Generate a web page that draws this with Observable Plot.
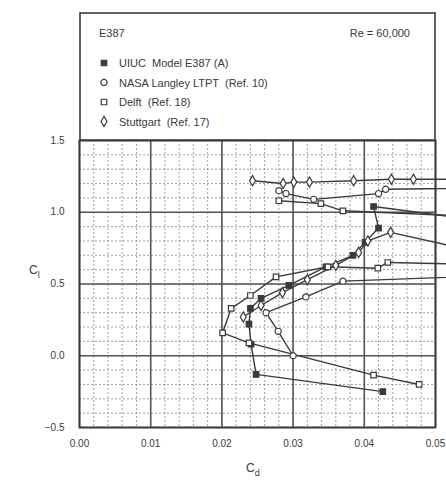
<!DOCTYPE html>
<html><head><meta charset="utf-8">
<script src="https://cdn.jsdelivr.net/npm/d3@7"></script>
<script src="https://cdn.jsdelivr.net/npm/@observablehq/plot@0.6"></script>
<style>body{margin:0;background:#fff;font-family:"Liberation Sans",Arial,sans-serif} svg{overflow:hidden;display:block}</style>
</head><body><div id="chart"></div>
<script>
// ---- data ----
const seriesNames = ["UIUC  Model E387 (A)", "NASA Langley LTPT  (Ref. 10)", "Delft  (Ref. 18)", "Stuttgart  (Ref. 17)"];
const xTicks = [0.00, 0.01, 0.02, 0.03, 0.04, 0.05];
const yTicks = [-0.5, 0.0, 0.5, 1.0, 1.5];
const titleText = "E387";
const reText = "Re = 60,000";

const uiucCd = [0.0426, 0.0248, 0.0241, 0.0238, 0.0240, 0.0255, 0.0294, 0.0346, 0.0384, 0.0401, 0.0420, 0.0413, 0.066];
const uiucCl = [-0.25, -0.13, 0.08, 0.22, 0.33, 0.40, 0.49, 0.62, 0.70, 0.79, 0.89, 1.04, 0.88];

const nasaCd = [0.0300, 0.0279, 0.0262, 0.0318, 0.0370, 0.070];
const nasaCl = [0.00, 0.17, 0.30, 0.41, 0.52, 0.58];
const nasaTopCd = [0.0280, 0.0290, 0.0329, 0.0420, 0.0430, 0.075];
const nasaTopCl = [1.15, 1.13, 1.09, 1.13, 1.16, 1.18];

const delftCd = [0.0477, 0.0413, 0.0238, 0.0201, 0.0213, 0.0240, 0.0276, 0.0349, 0.0419, 0.0433, 0.070];
const delftCl = [-0.20, -0.135, 0.09, 0.16, 0.33, 0.42, 0.55, 0.62, 0.61, 0.65, 0.62];
const delftTopCd = [0.0280, 0.0339, 0.0370, 0.075];
const delftTopCl = [1.08, 1.06, 1.01, 0.93];

const stuttCd = [0.0230, 0.0255, 0.0285, 0.0320, 0.0360, 0.0392, 0.0405, 0.0437, 0.058];
const stuttCl = [0.27, 0.35, 0.44, 0.53, 0.63, 0.72, 0.80, 0.86, 0.70];
const stuttTopCd = [0.0243, 0.0286, 0.0301, 0.0323, 0.0385, 0.0438, 0.0469, 0.075];
const stuttTopCl = [1.22, 1.20, 1.21, 1.21, 1.22, 1.23, 1.23, 1.23];

// ---- build table ----
const branches = [
  [0, "a", uiucCd, uiucCl],
  [1, "a", nasaCd, nasaCl], [1, "b", nasaTopCd, nasaTopCl],
  [2, "a", delftCd, delftCl], [2, "b", delftTopCd, delftTopCl],
  [3, "a", stuttCd, stuttCl], [3, "b", stuttTopCd, stuttTopCl]
];
const rows = [];
for (const [s, b, cd, cl] of branches) cd.forEach((v, i) => rows.push({series: seriesNames[s], key: s + b, cd: v, cl: cl[i]}));

const ink = "#3a3a3a";
const symbols = ["square", "circle", "square", "diamond"];
const fills = [ink, "#fff", "#fff", "#fff"];

const minorX = d3.range(0, 0.0501, 0.002).map(v => +v.toFixed(4));
const minorY = d3.range(-0.5, 1.501, 0.1).map(v => +v.toFixed(2));

const W = 446, H = 480;
const plot = Plot.plot({
  width: W, height: H,
  marginLeft: 79, marginRight: 11, marginTop: 140, marginBottom: 53,
  style: {fontFamily: "'Liberation Sans', Arial, sans-serif", fontSize: "10px", color: ink, background: "#fff"},
  x: {domain: [0, 0.05], ticks: xTicks, tickFormat: d3.format(".2f"), tickSize: 0, tickPadding: 12, label: null},
  y: {domain: [-0.5, 1.5], ticks: yTicks, tickFormat: d3.format(".1f"), tickSize: 0, tickPadding: 15, label: null},
  symbol: {domain: seriesNames, range: symbols},
  marks: [
    Plot.ruleX(minorX, {stroke: "#777", strokeWidth: 0.7, strokeDasharray: "2,2"}),
    Plot.ruleY(minorY, {stroke: "#777", strokeWidth: 0.7, strokeDasharray: "2,2"}),
    Plot.ruleX(xTicks, {stroke: "#555", strokeWidth: 1.6}),
    Plot.ruleY(yTicks, {stroke: "#555", strokeWidth: 1.6}),
    Plot.frame({stroke: ink, strokeWidth: 1.8}),
    Plot.line(rows, {x: "cd", y: "cl", z: "key", stroke: ink, strokeWidth: 1.4, clip: false}),
    Plot.dot(rows, {x: "cd", y: "cl", symbol: "series", r: 3.1, stroke: ink, strokeWidth: 1.2,
      fill: d => fills[seriesNames.indexOf(d.series)]})
  ]
});
document.getElementById("chart").append(plot);

// ---- legend box and labels ----
const svg = d3.select(plot);
const g = svg.append("g").attr("font-family", "'Liberation Sans', Arial, sans-serif")
  .attr("fill", ink).attr("text-anchor", "start");
g.append("rect").attr("x", 80).attr("y", 13).attr("width", 355).attr("height", 127)
  .attr("fill", "#fff").attr("stroke", ink).attr("stroke-width", 1.6);
g.append("text").attr("x", 99).attr("y", 37).attr("font-size", 11).text(titleText);
g.append("text").attr("x", 410).attr("y", 37).attr("font-size", 11).attr("text-anchor", "end").text(reText);
seriesNames.forEach((name, i) => {
  const yy = 63 + i * 19.5;
  g.append("path").attr("d", d3.symbol(d3["symbol" + ({square: "Square", circle: "Circle", diamond: "Diamond"})[symbols[i]]], 30)())
    .attr("transform", `translate(104,${yy})`).attr("fill", fills[i]).attr("stroke", ink).attr("stroke-width", 1.2);
  g.append("text").attr("x", 119).attr("y", yy + 4).attr("font-size", 11).text(name);
});
const yl = g.append("text").attr("x", 29).attr("y", 274).attr("font-size", 12);
yl.append("tspan").text("C");
yl.append("tspan").attr("font-size", 9).attr("dy", 4).text("l");
const xl = g.append("text").attr("x", 246).attr("y", 472).attr("font-size", 12);
xl.append("tspan").text("C");
xl.append("tspan").attr("font-size", 9).attr("dy", 4).text("d");
</script>
</body></html>
